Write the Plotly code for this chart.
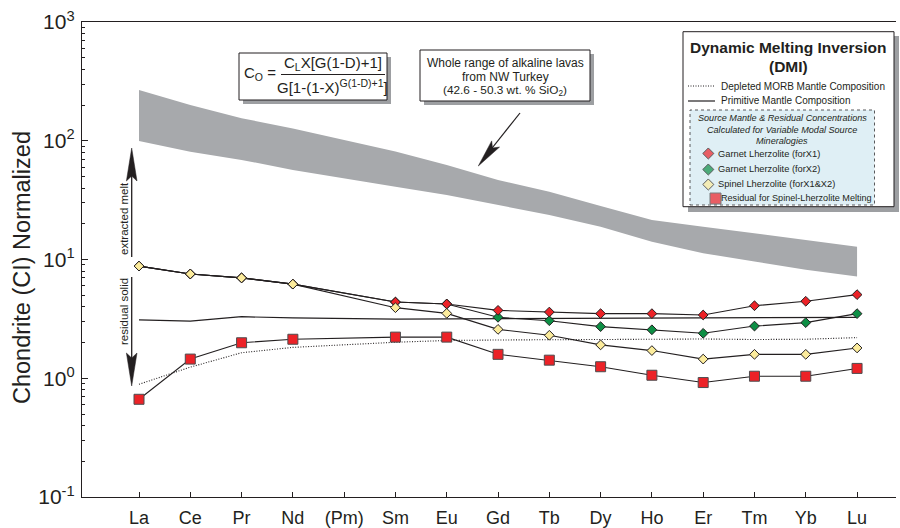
import plotly.graph_objects as go

# ---------------- data ----------------
elements = ["La", "Ce", "Pr", "Nd", "(Pm)", "Sm", "Eu", "Gd", "Tb", "Dy", "Ho", "Er", "Tm", "Yb", "Lu"]
ree = ["La", "Ce", "Pr", "Nd", "Sm", "Eu", "Gd", "Tb", "Dy", "Ho", "Er", "Tm", "Yb", "Lu"]

band_upper = [267, 200, 155, 127, 81, 62.5, 46.7, 37.2, 28.2, 21.5, 18.9, 16.6, 14.6, 12.8]
band_lower = [99.5, 80.9, 68.9, 56.8, 41.0, 34.9, 28.8, 23.7, 18.9, 14.1, 11.3, 9.6, 8.2, 7.2]

garnet_x1 = [8.8, 7.55, 7.0, 6.2, 4.38, 4.22, 3.73, 3.61, 3.50, 3.50, 3.41, 4.08, 4.45, 5.06]
garnet_x2 = [8.8, 7.55, 7.0, 6.2, 4.38, 4.22, 3.26, 3.05, 2.72, 2.56, 2.39, 2.75, 2.94, 3.50]
spinel = [8.8, 7.55, 7.0, 6.2, 3.93, 3.52, 2.58, 2.30, 1.91, 1.71, 1.45, 1.59, 1.59, 1.80]
residual = [0.665, 1.45, 1.99, 2.13, 2.22, 2.22, 1.59, 1.42, 1.25, 1.06, 0.92, 1.04, 1.04, 1.21]
primitive = [3.10, 3.03, 3.30, 3.22, 3.15, 3.16, 3.18, 3.19, 3.19, 3.20, 3.20, 3.22, 3.24, 3.26]
dmm = [0.89, 1.24, 1.64, 1.82, 2.01, 2.08, 2.10, 2.11, 2.12, 2.13, 2.14, 2.12, 2.13, 2.20]

ytick_vals = [0.1, 1, 10, 100, 1000]
ytick_text = ["10<sup>-1</sup>", "10<sup>0</sup>", "10<sup>1</sup>", "10<sup>2</sup>", "10<sup>3</sup>"]

# ---------------- styling ----------------
SANS = "Liberation Sans, Arial, sans-serif"
INK = "#231f20"
RED = "#ec2227"
GREEN = "#0d8f45"
YELLOW = "#fcec9c"
GREY = "#a7a9ac"

W, H = 900, 528
L, R, T, B = 82, 896, 22, 497


def PX(x):
    return (x - L) / (R - L)


def PY(y):
    return (B - y) / (B - T)


pos = {e: i for i, e in enumerate(elements)}
xs = [pos[e] for e in ree]
step = 51.29
x_lo = (L - 139) / step
x_hi = (R - 139) / step

fig = go.Figure()

# grey band (whole range of alkaline lavas)
fig.add_trace(go.Scatter(
    x=xs + xs[::-1], y=band_upper + band_lower[::-1],
    fill="toself", fillcolor=GREY, line=dict(width=0), mode="lines",
    hoverinfo="skip", showlegend=False))

# reference mantle compositions
fig.add_trace(go.Scatter(x=xs, y=dmm, mode="lines",
                         line=dict(color=INK, width=1.1, dash="1px,1.6px"), showlegend=False))
fig.add_trace(go.Scatter(x=xs, y=primitive, mode="lines",
                         line=dict(color=INK, width=1.2), showlegend=False))

# model curves
fig.add_trace(go.Scatter(x=xs, y=residual, mode="lines+markers",
                         line=dict(color=INK, width=1.1),
                         marker=dict(symbol="square", size=10, color=RED,
                                     line=dict(color="#4d4d4f", width=1)),
                         showlegend=False))
fig.add_trace(go.Scatter(x=xs, y=garnet_x2, mode="lines+markers",
                         line=dict(color=INK, width=1.1),
                         marker=dict(symbol="diamond", size=7.5, color=GREEN,
                                     line=dict(color=INK, width=1)),
                         showlegend=False))
fig.add_trace(go.Scatter(x=xs, y=garnet_x1, mode="lines+markers",
                         line=dict(color=INK, width=1.1),
                         marker=dict(symbol="diamond", size=7.5, color=RED,
                                     line=dict(color=INK, width=1)),
                         showlegend=False))
fig.add_trace(go.Scatter(x=xs, y=spinel, mode="lines+markers",
                         line=dict(color=INK, width=1.1),
                         marker=dict(symbol="diamond", size=7.5, color=YELLOW,
                                     line=dict(color=INK, width=1)),
                         showlegend=False))

# legend swatches on a pixel-coordinate overlay axis
leg_sym = ["diamond", "diamond", "diamond", "square"]
leg_col = [RED, GREEN, YELLOW, RED]
leg_x = [708.3, 708.3, 708.3, 715.5]
leg_y = [153.5, 169.5, 184.5, 198.5]
leg_size = [8.5, 8.5, 8.5, 11]
leg_line = [INK, INK, INK, "#4d4d4f"]
fig.add_trace(go.Scatter(x=leg_x, y=leg_y, mode="markers", xaxis="x2", yaxis="y2",
                         marker=dict(symbol=leg_sym, color=leg_col, size=leg_size,
                                     line=dict(color=leg_line, width=1)),
                         showlegend=False, hoverinfo="skip", cliponaxis=False))

shapes = []
annotations = []


def rect(x0, y0, x1, y1, fill, line_color=None, dash=None, width=1, layer="below"):
    shapes.append(dict(type="rect", xref="paper", yref="paper",
                       x0=PX(x0), x1=PX(x1), y0=PY(y1), y1=PY(y0),
                       fillcolor=fill,
                       line=dict(color=line_color or "rgba(0,0,0,0)", width=width if line_color else 0,
                                 dash=dash or "solid"),
                       layer=layer))


def seg(x0, y0, x1, y1, color=INK, width=1, dash="solid"):
    shapes.append(dict(type="line", xref="paper", yref="paper",
                       x0=PX(x0), y0=PY(y0), x1=PX(x1), y1=PY(y1),
                       line=dict(color=color, width=width, dash=dash), layer="above"))


def head(tx, ty, fx, fy, length=30, half=5, notch=4):
    dx, dy = tx - fx, ty - fy
    n = (dx * dx + dy * dy) ** 0.5
    ux, uy = dx / n, dy / n
    bx, by = tx - length * ux, ty - length * uy
    px_, py_ = -uy, ux
    p1 = (bx + half * px_, by + half * py_)
    p2 = (tx - (length - notch) * ux, ty - (length - notch) * uy)
    p3 = (bx - half * px_, by - half * py_)
    path = "M {} {} L {} {} L {} {} L {} {} Z".format(
        PX(tx), PY(ty), PX(p1[0]), PY(p1[1]), PX(p2[0]), PY(p2[1]), PX(p3[0]), PY(p3[1]))
    shapes.append(dict(type="path", xref="paper", yref="paper", path=path,
                       fillcolor=INK, line=dict(color=INK, width=0.5), layer="above"))


def text(x, y, s, size=11, family=SANS, xanchor="center", angle=0, color=INK):
    annotations.append(dict(xref="paper", yref="paper", x=PX(x), y=PY(y), text=s,
                            showarrow=False, xanchor=xanchor, yanchor="middle",
                            textangle=angle, borderpad=0,
                            font=dict(size=size, family=family, color=color)))


# formula box
rect(243, 57, 391, 104, "#9d9fa2")
rect(239, 53, 387, 100, "white", INK, width=1)
text(243, 74, "C<sub>O</sub> =", size=15, xanchor="left")
text(333, 63, "C<sub>L</sub>X[G(1-D)+1]", size=15)
seg(281, 74.5, 385, 74.5, width=1.2)
text(332, 87, "G[1-(1-X)<sup>G(1-D)+1</sup>]", size=15)

# whole range box
rect(424, 54, 594, 105, "#9d9fa2")
rect(420, 50, 590, 101, "white", INK, width=1)
text(505, 63.5, "Whole range of alkaline lavas", size=12)
text(505, 76.5, "from NW Turkey", size=12)
text(505, 90.5, "(42.6 - 50.3 wt. % SiO<sub>2</sub>)", size=11.8)
seg(520, 113, 485, 157, width=1.2)
head(478.3, 166, 520, 113, length=28, half=5, notch=5)

# extracted melt / residual solid arrows
seg(131.7, 257, 131.7, 172, width=1.3)
head(131.7, 148, 131.7, 257, length=33, half=5.3, notch=5)
seg(131.7, 277, 131.7, 360, width=1.3)
head(131.7, 386, 131.7, 277, length=33, half=5.3, notch=5)
text(124, 219, "extracted melt", size=11.5, angle=-90)
text(124, 312, "residual solid", size=11.5, angle=-90)

# legend box
rect(688, 36, 899, 212, "#9d9fa2")
rect(683, 31.7, 894, 206.7, "white", INK, width=1)
rect(690, 110, 874.5, 205, "#dfeff5", "#58595b", dash="dot", width=1)
text(788, 47.5, "<b>Dynamic Melting Inversion</b>", size=15.5)
text(788, 66.5, "<b>(DMI)</b>", size=15.5)
seg(688, 86, 715, 86, dash="1px,1.5px", width=1)
text(720, 86, "Depleted MORB Mantle Composition", size=10, xanchor="left")
seg(688, 101, 715, 101, width=1.2)
text(720, 101, "Primitive Mantle Composition", size=10, xanchor="left")
text(782, 117.5, "<i>Source Mantle &amp; Residual Concentrations</i>", size=9.1)
text(782, 129.5, "<i>Calculated for Variable Modal Source</i>", size=9.1)
text(782, 141, "<i>Mineralogies</i>", size=9.1)
text(716.5, 153.5, "Garnet Lherzolite (forX1)", size=9.3, xanchor="left")
text(716.5, 169.5, "Garnet Lherzolite (forX2)", size=9.3, xanchor="left")
text(716.5, 184.5, "Spinel Lherzolite (forX1&amp;X2)", size=9.3, xanchor="left")
text(720, 198.5, "Residual for Spinel-Lherzolite Melting", size=9.1, xanchor="left")

# y title
text(22, 268, "Chondrite (CI) Normalized", size=23.5, angle=-90)

minor_vals = [k * 10 ** e for e in range(-1, 3) for k in range(2, 10)]

fig.update_layout(
    width=W, height=H,
    margin=dict(l=L, r=W - R, t=T, b=H - B, pad=0, autoexpand=False),
    paper_bgcolor="white", plot_bgcolor="white",
    xaxis=dict(range=[x_lo, x_hi], tickvals=list(range(len(elements))), ticktext=elements,
               ticks="inside", ticklen=5, tickcolor=INK, tickwidth=1,
               showline=True, linecolor=INK, linewidth=1.3, mirror=True,
               showgrid=False, zeroline=False, ticklabelstandoff=4, automargin=False,
               tickfont=dict(size=18, family=SANS, color=INK)),
    yaxis=dict(type="log", range=[-1, 3], tickvals=ytick_vals, ticktext=ytick_text,
               ticks="inside", ticklen=6, tickcolor=INK, tickwidth=1,
               minor=dict(tickvals=minor_vals, ticks="inside", ticklen=3, tickcolor=INK),
               showline=True, linecolor=INK, linewidth=1.3, automargin=False,
               showgrid=False, zeroline=False, ticklabelstandoff=2,
               tickfont=dict(size=21, family=SANS, color=INK)),
    xaxis2=dict(range=[L, R], overlaying="x", visible=False, fixedrange=True),
    yaxis2=dict(range=[B, T], overlaying="y", visible=False, fixedrange=True),
    shapes=shapes, annotations=annotations, showlegend=False,
)

fig.write_html("out.html")
